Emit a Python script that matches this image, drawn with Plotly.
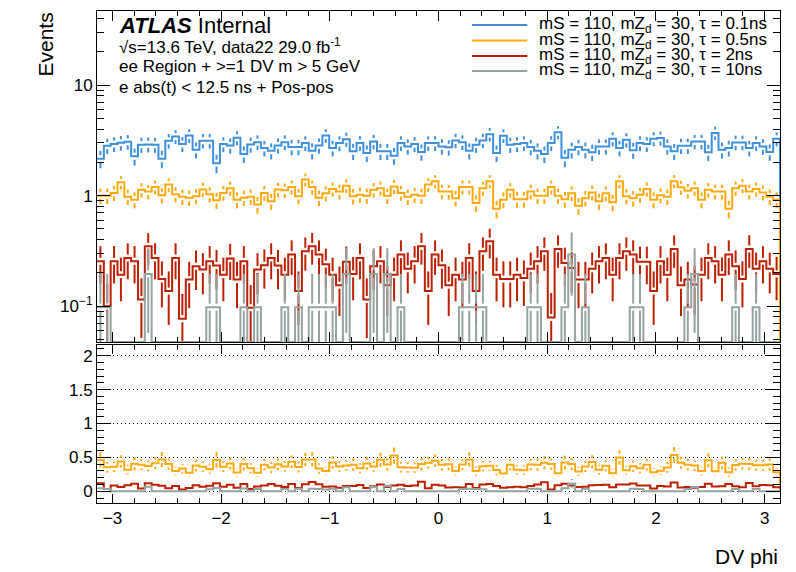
import numpy as np
import plotly.graph_objects as go
from plotly.subplots import make_subplots

# DV phi binning: 100 bins over [-pi, pi]
phi_edges = np.linspace(-np.pi, np.pi, 101)
phi_centers = 0.5 * (phi_edges[:-1] + phi_edges[1:])

# Events per bin
blue_01ns = [2.16, 2.83, 2.93, 3.01, 3.07, 2.27, 2.89, 2.91, 2.89, 2.16,
             3.14, 3.43, 2.93, 3.50, 2.60, 3.14, 3.14, 1.97, 2.93, 2.85,
             3.34, 2.38, 2.90, 3.05, 2.70, 2.55, 2.85, 3.05, 2.76, 2.76,
             2.99, 2.55, 2.85, 3.50, 2.70, 2.99, 3.24, 2.52, 3.00, 2.43,
             3.09, 2.52, 2.52, 2.30, 2.99, 2.79, 2.93, 2.49, 2.99, 2.99,
             2.79, 2.74, 3.16, 3.05, 2.55, 2.89, 3.16, 3.60, 2.43, 3.49,
             2.89, 2.93, 2.99, 2.76, 2.55, 2.38, 2.99, 3.75, 2.20, 2.60,
             2.76, 2.60, 2.47, 2.79, 2.79, 3.27, 2.70, 3.20, 2.58, 2.99,
             2.93, 3.27, 3.32, 2.79, 2.52, 2.83, 2.83, 3.09, 3.09, 2.47,
             3.70, 2.60, 2.70, 3.03, 3.03, 2.70, 2.99, 2.79, 2.49, 3.27]
orange_05ns = [1.00, 1.00, 1.06, 1.32, 0.98, 0.92, 1.13, 1.09, 1.20, 1.01,
               1.26, 1.03, 0.98, 0.96, 0.99, 1.14, 1.03, 0.91, 1.06, 1.17,
               0.92, 0.96, 0.98, 0.83, 1.06, 0.89, 1.14, 1.12, 1.20, 0.99,
               1.40, 1.20, 0.96, 1.05, 1.15, 1.09, 1.23, 0.99, 1.02, 1.00,
               1.13, 1.17, 1.00, 1.21, 1.06, 0.98, 1.02, 1.00, 1.26, 1.35,
               1.09, 1.09, 0.95, 1.20, 1.20, 0.86, 1.17, 1.35, 0.76, 0.92,
               1.13, 0.93, 0.93, 1.09, 1.00, 1.00, 1.20, 1.00, 0.93, 1.05,
               0.81, 0.95, 1.07, 0.89, 1.05, 0.87, 1.35, 0.99, 0.95, 1.02,
               1.15, 0.92, 1.01, 0.98, 1.35, 1.19, 1.11, 1.17, 0.92, 1.13,
               1.09, 1.09, 0.76, 1.17, 1.23, 1.09, 1.15, 1.07, 0.98, 0.92]
red_2ns = [0.255, 0.100, 0.255, 0.193, 0.273, 0.255, 0.115, 0.348, 0.273, 0.176,
           0.137, 0.273, 0.077, 0.174, 0.230, 0.215, 0.255, 0.233, 0.193, 0.270,
           0.174, 0.255, 0.097, 0.215, 0.235, 0.273, 0.233, 0.193, 0.293, 0.137,
           0.314, 0.348, 0.293, 0.240, 0.193, 0.155, 0.252, 0.196, 0.273, 0.115,
           0.230, 0.255, 0.155, 0.193, 0.293, 0.218, 0.255, 0.348, 0.137, 0.293,
           0.235, 0.155, 0.193, 0.174, 0.273, 0.137, 0.314, 0.387, 0.193, 0.176,
           0.176, 0.193, 0.180, 0.218, 0.255, 0.314, 0.079, 0.330, 0.246, 0.222,
           0.174, 0.174, 0.218, 0.255, 0.273, 0.193, 0.273, 0.314, 0.293, 0.252,
           0.252, 0.137, 0.255, 0.193, 0.330, 0.155, 0.174, 0.157, 0.193, 0.273,
           0.255, 0.193, 0.293, 0.230, 0.176, 0.330, 0.218, 0.255, 0.218, 0.196]
grey_10ns = [0.098, 0.098, 0, 0, 0, 0, 0, 0.196, 0, 0,
             0, 0, 0, 0, 0, 0, 0.098, 0.098, 0, 0,
             0, 0.098, 0, 0.098, 0, 0, 0, 0.098, 0, 0.098,
             0, 0.098, 0.098, 0.098, 0.098, 0, 0.196, 0, 0, 0,
             0.196, 0, 0.196, 0, 0.098, 0, 0, 0, 0, 0,
             0, 0, 0, 0.098, 0.098, 0.098, 0.098, 0, 0, 0,
             0, 0, 0, 0.098, 0.098, 0, 0, 0, 0.098, 0.294,
             0, 0.098, 0, 0, 0, 0, 0, 0, 0.098, 0.098,
             0, 0, 0, 0, 0, 0, 0.098, 0.196, 0, 0,
             0, 0, 0, 0.098, 0, 0, 0.098, 0, 0, 0]

# per-event weight of each sample (sets the stat. error bars)
weights = [0.07, 0.025, 0.035, 0.098]
colors = ["#3f90da", "#ffa90e", "#bd1f01", "#94a4a2"]
labels = ["mS = 110, mZ<sub>d</sub> = 30, τ = 0.1ns",
          "mS = 110, mZ<sub>d</sub> = 30, τ = 0.5ns",
          "mS = 110, mZ<sub>d</sub> = 30, τ = 2ns",
          "mS = 110, mZ<sub>d</sub> = 30, τ = 10ns"]

LOG_RANGE = [-1.325, 1.671]
RATIO_RANGE = [-0.173, 2.157]
FLOOR = 10 ** LOG_RANGE[0]
GAP_LOG = 10 ** (3.5 / 110.7)
GAP_LIN = 0.052
FONT = "Liberation Sans, Arial, sans-serif"


def err_lines(vals, errs, log):
    xs, ys = [], []
    for x, v, e in zip(phi_centers, vals, errs):
        if e <= 0:
            continue
        hi0 = v * GAP_LOG if log else v + GAP_LIN
        lo0 = v / GAP_LOG if log else v - GAP_LIN
        if v + e > hi0:
            xs += [x, x, None]
            ys += [hi0, v + e, None]
        if v - e < lo0:
            low = v - e
            if log and low <= 0:
                low = FLOOR
            xs += [x, x, None]
            ys += [lo0, low, None]
    return xs, ys


fig = make_subplots(rows=2, cols=1, shared_xaxes=True)

samples = [blue_01ns, orange_05ns, red_2ns, grey_10ns]
blue = np.array(blue_01ns)
blue_err = np.sqrt(blue * weights[0])

for i, vals in enumerate(samples):
    v = np.array(vals, dtype=float)
    e = np.sqrt(v * weights[i])
    # top panel
    ex, ey = err_lines(v, e, True)
    fig.add_trace(go.Scatter(x=ex, y=ey, mode="lines",
                             line=dict(color=colors[i], width=2),
                             showlegend=False, hoverinfo="skip"), row=1, col=1)
    vplot = np.where(v > 0, v, FLOOR)
    sx = list(phi_edges)
    sy = list(vplot) + [vplot[-1]]
    if i < 2:
        sx.append(phi_edges[-1])
        sy.append(FLOOR)
    fig.add_trace(go.Scatter(x=sx, y=sy, mode="lines", line_shape="hv",
                             line=dict(color=colors[i], width=2),
                             name=labels[i], showlegend=False), row=1, col=1)
    # ratio panel (sample / tau = 0.1ns)
    if i == 0:
        continue
    r = v / blue
    re = r * np.sqrt(np.divide(e, v, out=np.zeros_like(e), where=v > 0) ** 2
                     + (blue_err / blue) ** 2)
    re = np.where(v > 0, re, 0)
    ex, ey = err_lines(r, re, False)
    fig.add_trace(go.Scatter(x=ex, y=ey, mode="lines",
                             line=dict(color=colors[i], width=2),
                             showlegend=False, hoverinfo="skip"), row=2, col=1)
    rx = list(phi_edges)
    ry = list(r) + [r[-1]]
    if i == 1:
        rx.append(phi_edges[-1])
        ry.append(0)
    fig.add_trace(go.Scatter(x=rx, y=ry, mode="lines", line_shape="hv",
                             line=dict(color=colors[i], width=2),
                             showlegend=False), row=2, col=1)

axis_common = dict(showline=True, linecolor="black", linewidth=1, mirror="allticks",
                   ticks="inside", tickcolor="black", zeroline=False, showgrid=False,
                   tickfont=dict(family=FONT, size=17, color="black"))

fig.update_xaxes(axis_common)
fig.update_yaxes(axis_common)

fig.update_xaxes(range=[-np.pi, np.pi], dtick=1, tick0=0, ticklen=10,
                 minor=dict(dtick=0.2, tick0=0, ticks="inside", ticklen=5, tickcolor="black"),
                 showticklabels=False, row=1, col=1)
fig.update_xaxes(range=[-np.pi, np.pi], dtick=1, tick0=0, ticklen=9,
                 minor=dict(dtick=0.2, tick0=0, ticks="inside", ticklen=5, tickcolor="black"),
                 showticklabels=True, row=2, col=1)

minor_log = [0.05, 0.06, 0.07, 0.08, 0.09, 0.2, 0.3, 0.4, 0.5, 0.6, 0.7, 0.8, 0.9,
             2, 3, 4, 5, 6, 7, 8, 9, 20, 30, 40]
fig.update_yaxes(type="log", range=LOG_RANGE, tickmode="array",
                 tickvals=[0.1, 1, 10], ticktext=["10<sup>−1</sup>", "1", "10"],
                 ticklen=13,
                 minor=dict(tickmode="array", tickvals=minor_log, ticks="inside",
                            ticklen=7, tickcolor="black"),
                 domain=[0.327, 1], row=1, col=1)
fig.update_yaxes(range=RATIO_RANGE, tickmode="array", tickvals=[0, 0.5, 1, 1.5, 2],
                 ticktext=["0", "0.5", "1", "1.5", "2"], ticklen=14,
                 showgrid=True, gridcolor="black", griddash="1px,3px", gridwidth=1,
                 minor=dict(dtick=0.1, tick0=0, ticks="inside", ticklen=7,
                            tickcolor="black", showgrid=False),
                 domain=[0, 0.321], row=2, col=1)

annotations = [
    dict(x=0.029, y=0.9715, text="<b><i>ATLAS</i></b> Internal", font=dict(size=22)),
    dict(x=0.029, y=0.9289, text="√s=13.6 TeV, data22 29.0 fb<sup>-1</sup>", font=dict(size=17)),
    dict(x=0.029, y=0.8862, text="ee Region + >=1 DV m > 5 GeV", font=dict(size=17)),
    dict(x=0.029, y=0.8435, text="e abs(t) < 12.5 ns + Pos-pos", font=dict(size=17)),
]
for a in annotations:
    a.update(xref="paper", yref="paper", xanchor="left", yanchor="middle",
             showarrow=False)
    a["font"].update(family=FONT, color="black")

shapes = []
legend_y = [0.9715, 0.9400, 0.9085, 0.8780]
for ly, lab, col in zip(legend_y, labels, colors):
    annotations.append(dict(x=0.644, y=ly, xref="paper", yref="paper", text=lab,
                            xanchor="left", yanchor="middle", showarrow=False,
                            font=dict(family=FONT, size=17, color="black")))
    shapes.append(dict(type="line", xref="paper", yref="paper", x0=0.549, x1=0.630,
                       y0=ly, y1=ly, line=dict(color=col, width=2)))

annotations.append(dict(x=-0.076, y=0.932, xref="paper", yref="paper", text="Events",
                        textangle=-90, xanchor="center", yanchor="middle", showarrow=False,
                        font=dict(family=FONT, size=21, color="black")))
annotations.append(dict(x=1.0, y=-0.108, xref="paper", yref="paper", text="DV phi",
                        xanchor="right", yanchor="middle", showarrow=False,
                        font=dict(family=FONT, size=21, color="black")))

# the page body adds an 8 px offset, so the figure is 8 px smaller and margins shifted
fig.update_layout(width=788, height=564,
                  margin=dict(l=89, r=16, t=3, b=69),
                  plot_bgcolor="white", paper_bgcolor="white",
                  showlegend=False, annotations=annotations, shapes=shapes,
                  font=dict(family=FONT, color="black"))

fig.write_html("out.html")
